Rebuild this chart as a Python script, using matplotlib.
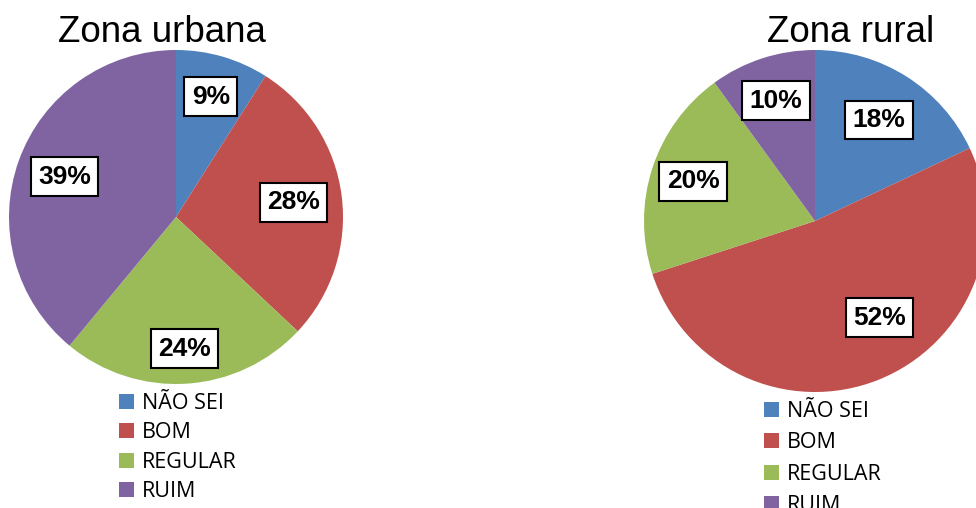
import numpy as np
import matplotlib.pyplot as plt
from matplotlib.patches import Patch

# Data
categories = ['NÃO SEI', 'BOM', 'REGULAR', 'RUIM']
urbana = [9, 28, 24, 39]
rural = [18, 52, 20, 10]
colors = ['#4F81BD', '#C0504D', '#9BBB59', '#8064A2']

# label placement (fraction of radius, extra angle in degrees)
urbana_lab = [(0.75, 0), (0.71, 0), (0.79, 0), (0.71, 0)]
rural_lab = [(0.70, 0), (0.68, 12), (0.75, 0), (0.74, 0)]

W, H = 976, 508
fig = plt.figure(figsize=(W / 100, H / 100), dpi=100)
ax = fig.add_axes([0, 0, 1, 1])

box = dict(boxstyle='square,pad=0.28', fc='white', ec='black', lw=1.5)


def draw_pie(values, lab, center, radius, title, title_x, leg_anchor, spacing):
    wedges, _ = ax.pie(values, colors=colors, startangle=90, counterclock=False,
                       center=center, radius=radius, frame=True,
                       wedgeprops=dict(linewidth=0))
    for w, v, (d, da) in zip(wedges, values, lab):
        ang = np.deg2rad((w.theta1 + w.theta2) / 2 + da)
        x = center[0] + d * radius * np.cos(ang)
        y = center[1] + d * radius * np.sin(ang)
        ax.text(x, y, f'{v}%', ha='center', va='center', fontsize=19,
                fontweight='bold', family='Liberation Sans', bbox=box)
    fig.text(title_x / W, 1 - 42 / H, title, ha='center', va='baseline',
             fontsize=26.5, family='Liberation Sans')
    handles = [Patch(facecolor=c, edgecolor='none') for c in colors]
    fig.legend(handles, categories, loc='upper left',
               bbox_to_anchor=(leg_anchor[0] / W, 1 - leg_anchor[1] / H),
               frameon=False, prop=dict(family='Open Sans', size=15.5),
               handlelength=0.7, handleheight=0.7, handletextpad=0.35,
               labelspacing=spacing, borderpad=0, borderaxespad=0)


draw_pie(urbana, urbana_lab, (176, H - 217), 167, 'Zona urbana', 162, (119, 393), 0.39)
draw_pie(rural, rural_lab, (815, H - 221), 171, 'Zona rural', 851, (764, 401), 0.48)

ax.set_xlim(0, W)
ax.set_ylim(0, H)
ax.set_aspect('equal')
ax.axis('off')

fig.savefig('out.png', dpi=100)
